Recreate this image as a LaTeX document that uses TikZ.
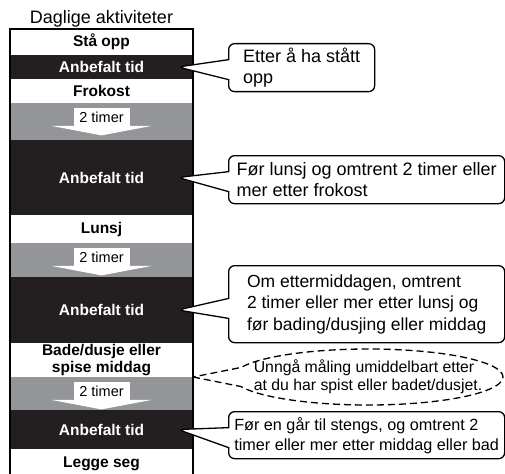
\documentclass[tikz,border=0pt]{standalone}
\usepackage{fontspec}
\setmainfont{Liberation Sans}
\usepackage{xcolor}
\usepackage{tikz}
\usetikzlibrary{positioning, fit, shapes.callouts}

\definecolor{bandblack}{RGB}{35,31,32}
\definecolor{bandgray}{RGB}{147,149,152}

\begin{document}
\begin{tikzpicture}[x=1pt, y=-1pt,
  band/.style={rectangle, minimum width=183pt, inner sep=0pt, outer sep=0pt, align=center, font=\fontsize{15.5}{17}\selectfont\bfseries},
  rest/.style={band, fill=white},
  slot/.style={band, fill=bandblack, text=white},
  gap/.style={band, fill=bandgray},
  timer/.style={rectangle, fill=white, minimum width=56pt, minimum height=18pt, inner sep=0pt, font=\fontsize{14.5}{16}\selectfont},
  note/.style={rectangle callout, draw, line width=1.3pt, rounded corners=6pt, fill=white, align=left, anchor=north west, inner xsep=1pt, inner ysep=0pt, callout pointer width=20pt, font=\fontsize{18}{21.5}\selectfont},
  warn/.style={ellipse callout, draw, dash pattern=on 7pt off 4pt, line width=1.3pt, fill=white, minimum width=270pt, minimum height=56pt, callout pointer arc=40}
]
  \useasboundingbox (0,0) rectangle (505,473);
  \clip (0,0) rectangle (505,473);

  \node[rest, minimum height=26pt, anchor=north] (b1) at (101.5,29) {Stå opp};
  \node[slot, minimum height=24pt, below=0pt of b1] (a1) {Anbefalt tid};
  \node[rest, minimum height=24pt, below=0pt of a1] (b2) {Frokost};
  \node[gap,  minimum height=37pt, below=0pt of b2] (g1) {};
  \node[slot, minimum height=75pt, below=0pt of g1] (a2) {Anbefalt tid};
  \node[rest, minimum height=28pt, below=0pt of a2] (b3) {Lunsj};
  \node[gap,  minimum height=34pt, below=0pt of b3] (g2) {};
  \node[slot, minimum height=66pt, below=0pt of g2] (a3) {Anbefalt tid};
  \node[rest, minimum height=34pt, below=0pt of a3] (b4) {Bade/dusje eller\\spise middag};
  \node[gap,  minimum height=33pt, below=0pt of b4] (g3) {};
  \node[slot, minimum height=39pt, below=0pt of g3] (a4) {Anbefalt tid};
  \node[rest, minimum height=30pt, below=0pt of a4] (b5) {Legge seg};
  \node[draw, line width=1.3pt, inner sep=0pt, fit=(b1)(b5)] (col) {};
  \node[inner sep=0pt, font=\fontsize{18}{20}\selectfont, above=2pt of b1] (title) {Daglige aktiviteter};

  \foreach \i in {1,2,3} {
    \node[timer, below=5pt of g\i.north] (t\i) {2 timer};
    \fill[white] ([xshift=-22pt, yshift=0.5pt]t\i.south west) -- ([xshift=22pt, yshift=0.5pt]t\i.south east) -- ([yshift=-9pt]t\i.south) -- cycle;
  }

  \node[note, minimum width=146pt, minimum height=48pt, callout absolute pointer={([xshift=-15pt]a1.east)}] (n1) at (228,43) {Etter å ha stått\\opp};
  \node[note, minimum width=276pt, minimum height=48pt, callout absolute pointer={([xshift=-15pt]a2.east)}] (n2) at (228,155) {Før lunsj og omtrent 2 timer eller\\mer etter frokost};
  \node[note, minimum width=276pt, minimum height=77pt, font=\fontsize{17.5}{21.5}\selectfont, callout absolute pointer={([xshift=-15pt]a3.east)}] (n3) at (228,265) {Om ettermiddagen, omtrent\\2 timer eller mer etter lunsj og\\før bading/dusjing eller middag};
  \node[warn, callout absolute pointer={(g3.north east)}] (n4) at (368,377) {};
  \node[inner sep=0pt, align=left, font=\fontsize{15.8}{18.5}\selectfont] (w4) at (n4.center) {Unngå måling umiddelbart etter\\at du har spist eller badet/dusjet.};
  \node[note, minimum width=276pt, minimum height=47pt, font=\fontsize{16.2}{20}\selectfont, callout absolute pointer={([xshift=-15pt]a4.east)}] (n5) at (228,411) {Før en går til stengs, og omtrent 2\\timer eller mer etter middag eller bad};
\end{tikzpicture}
\end{document}
